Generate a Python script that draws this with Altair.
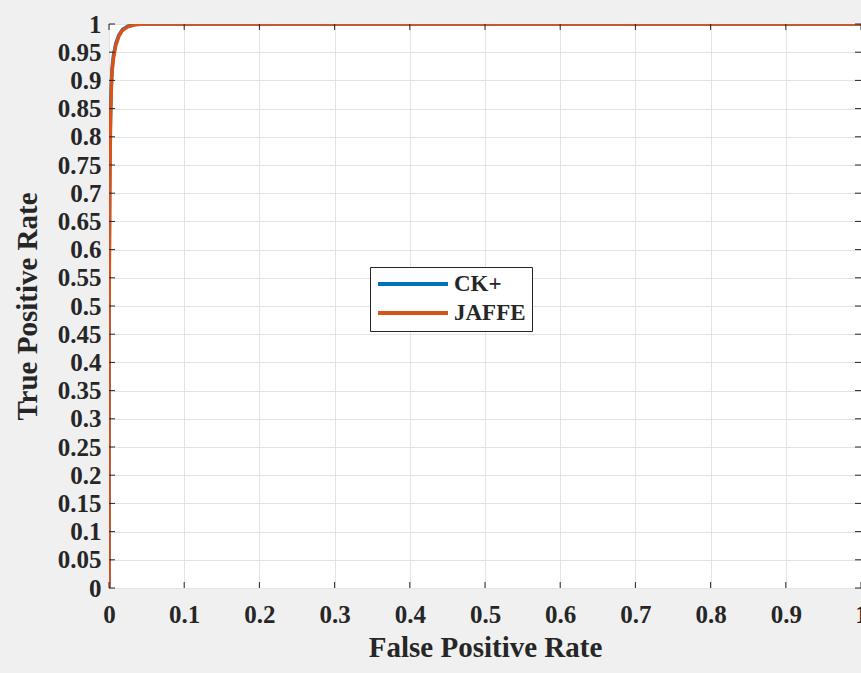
import altair as alt
import pandas as pd

# ROC curve points
ck_fpr = [0.0, 0.0, 0.001, 0.002, 0.003, 0.004, 0.006, 0.009, 0.013, 0.018, 0.025, 0.035, 0.05, 0.1, 0.5, 1.0]
ck_tpr = [0.0, 0.50, 0.74, 0.84, 0.89, 0.92, 0.945, 0.965, 0.98, 0.99, 0.996, 0.999, 1.0, 1.0, 1.0, 1.0]
jaffe_fpr = [0.0, 0.0, 0.001, 0.002, 0.003, 0.004, 0.006, 0.009, 0.013, 0.018, 0.025, 0.035, 0.05, 0.1, 0.5, 1.0]
jaffe_tpr = [0.0, 0.45, 0.70, 0.82, 0.88, 0.915, 0.94, 0.962, 0.978, 0.989, 0.995, 0.999, 1.0, 1.0, 1.0, 1.0]

x_ticks = [round(i * 0.1, 2) for i in range(11)]
y_ticks = [round(i * 0.05, 2) for i in range(21)]

series = ["CK+", "JAFFE"]
colors = ["#0072BD", "#D95319"]

rows = []
for name, fx, fy in [("CK+", ck_fpr, ck_tpr), ("JAFFE", jaffe_fpr, jaffe_tpr)]:
    for i, (a, b) in enumerate(zip(fx, fy)):
        rows.append({"fpr": a, "tpr": b, "series": name, "i": i})
df = pd.DataFrame(rows)

W, H = 752, 564
TXT = "#262626"
FONT = "Liberation Serif"

xs = alt.Scale(domain=[0, 1], nice=False, zero=False)
ys = alt.Scale(domain=[0, 1], nice=False, zero=False)

x_axis = alt.Axis(
    title="False Positive Rate", values=x_ticks, format=".1~f",
    grid=True, gridColor="#e3e3e3", ticks=False, domain=False,
    labelFontSize=25, labelFontWeight="bold", labelColor=TXT, labelPadding=14,
    labelFont=FONT, titleFont=FONT, titleFontSize=29, titleFontWeight="bold",
    titleColor=TXT, titlePadding=6, labelFlush=False, labelOverlap=False)
y_axis = alt.Axis(
    title="True Positive Rate", values=y_ticks, format=".2~f",
    grid=True, gridColor="#e3e3e3", ticks=False, domain=False,
    labelFontSize=25, labelFontWeight="bold", labelColor=TXT, labelPadding=8,
    labelFont=FONT, titleFont=FONT, titleFontSize=29, titleFontWeight="bold",
    titleColor=TXT, titlePadding=15, labelFlush=False, labelOverlap=False)

lines = alt.Chart(df).mark_line(strokeWidth=3.5, clip=True).encode(
    x=alt.X("fpr:Q", scale=xs, axis=x_axis),
    y=alt.Y("tpr:Q", scale=ys, axis=y_axis),
    color=alt.Color("series:N", scale=alt.Scale(domain=series, range=colors),
                    legend=alt.Legend(
                        title=None, orient="none", legendX=261, legendY=243,
                        symbolType="stroke", symbolSize=4900, symbolStrokeWidth=4,
                        clipHeight=22, rowPadding=6,
                        labelFont=FONT, labelFontSize=23, labelFontWeight="bold",
                        labelColor=TXT, fillColor="white", strokeColor=TXT,
                        padding=6, labelOffset=4, cornerRadius=0)),
    order="i:Q",
)

xt_df = pd.DataFrame({"fpr": x_ticks})
yt_df = pd.DataFrame({"tpr": y_ticks})
tk = dict(color=TXT, strokeWidth=1)
bottom_ticks = alt.Chart(xt_df).mark_rule(**tk).encode(
    x=alt.X("fpr:Q", scale=xs, axis=x_axis), y=alt.value(H), y2=alt.value(H - 6))
top_ticks = alt.Chart(xt_df).mark_rule(**tk).encode(
    x=alt.X("fpr:Q", scale=xs, axis=x_axis), y=alt.value(0), y2=alt.value(6))
left_ticks = alt.Chart(yt_df).mark_rule(**tk).encode(
    y=alt.Y("tpr:Q", scale=ys, axis=y_axis), x=alt.value(0), x2=alt.value(6))
right_ticks = alt.Chart(yt_df).mark_rule(**tk).encode(
    y=alt.Y("tpr:Q", scale=ys, axis=y_axis), x=alt.value(W), x2=alt.value(W - 6))

chart = alt.layer(lines, bottom_ticks, top_ticks, left_ticks, right_ticks).properties(
    width=W, height=H,
    background="#f0f0f0",
    padding={"left": 109, "top": 24, "right": 0, "bottom": 85},
    autosize=alt.AutoSizeParams(type="none"),
).configure_view(
    fill="white", stroke=TXT, strokeWidth=1
)

chart.save("out.html", embed_options={"renderer": "svg", "actions": False})
